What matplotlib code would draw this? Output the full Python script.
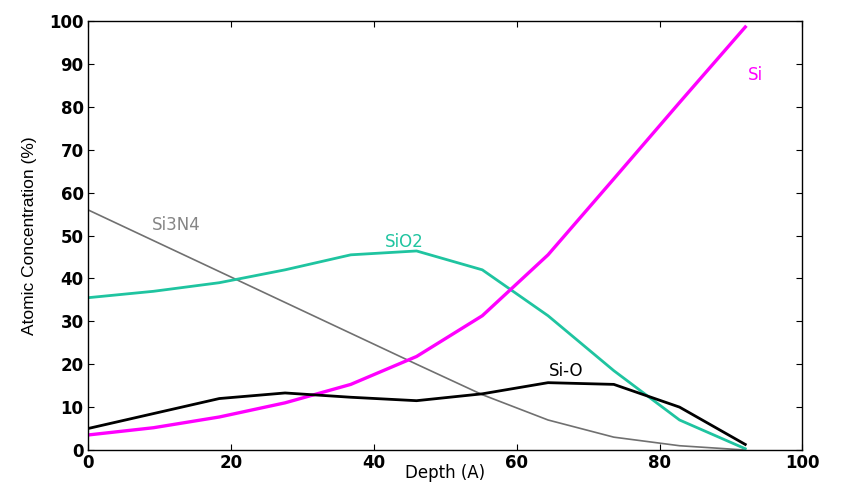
import matplotlib
matplotlib.use('Agg')
import matplotlib.pyplot as plt

depth = [0, 9.2, 18.4, 27.6, 36.8, 46, 55.2, 64.4, 73.6, 82.8, 92]
si = [3.5, 5.2, 7.7, 11.0, 15.3, 21.8, 31.3, 45.5, 63.2, 81.0, 98.6]
sio2 = [35.5, 37.0, 39.0, 42.0, 45.5, 46.4, 42.0, 31.3, 18.5, 7.0, 0.3]
sio = [5.0, 8.5, 12.0, 13.3, 12.3, 11.5, 13.1, 15.7, 15.3, 10.0, 1.3]
si3n4 = [56.0, 48.8, 41.6, 34.4, 27.2, 20.0, 12.9, 7.0, 3.0, 1.0, 0.0]

plt.rcParams['font.family'] = ['DejaVu Sans']

fig = plt.figure(figsize=(8.61, 4.84), dpi=100)
ax = fig.add_axes([0.102, 0.0702, 0.830, 0.8864])

ax.plot(depth, si3n4, color='#707070', lw=1.2)
ax.plot(depth, sio2, color='#1fc4a0', lw=2.0)
ax.plot(depth, si, color='#ff00ff', lw=2.4)
ax.plot(depth, sio, color='black', lw=2.0)

ax.text(9, 51.3, 'Si3N4', color='#858585', fontsize=12)
ax.text(41.5, 47.3, 'SiO2', color='#1fc4a0', fontsize=12)
ax.text(92.3, 86.3, 'Si', color='#ff00ff', fontsize=12)
ax.text(64.5, 17.3, 'Si-O', color='black', fontsize=12)

ax.set_xlim(0, 100)
ax.set_ylim(0, 100)
ax.set_xticks(range(0, 101, 20))
ax.set_yticks(range(0, 101, 10))
ax.tick_params(direction='in', top=True, right=True, length=4, labelsize=12, pad=3)
for lab in ax.get_xticklabels() + ax.get_yticklabels():
    lab.set_fontweight('semibold')
for sp in ax.spines.values():
    sp.set_linewidth(1.0)

ax.set_xlabel('Depth (A)', fontsize=12, labelpad=-6)
ax.set_ylabel('Atomic Concentration (%)', fontsize=12.5, labelpad=9,
              family='Liberation Sans')

fig.savefig('out.png', dpi=100)
